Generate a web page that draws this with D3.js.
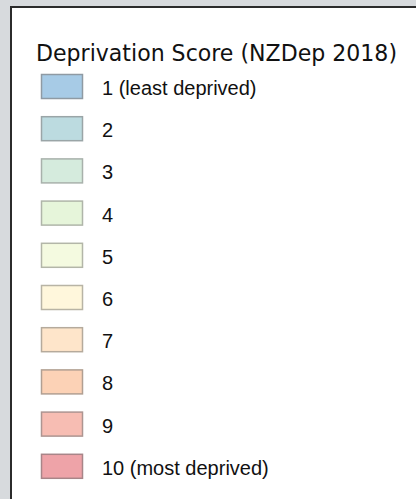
<!DOCTYPE html>
<html>
<head>
<meta charset="utf-8">
<script src="https://cdn.jsdelivr.net/npm/d3@7"></script>
<style>
  html, body { margin: 0; padding: 0; background: #d7dadd; }
  svg { display: block; }
</style>
</head>
<body>
<svg width="416" height="499"></svg>
<script>
// legend data
const title = "Deprivation Score (NZDep 2018)";
const classes = [1, 2, 3, 4, 5, 6, 7, 8, 9, 10];
const labels = ["1 (least deprived)", "2", "3", "4", "5", "6", "7", "8", "9", "10 (most deprived)"];
const colours = ["#a7cbe6", "#bcdbe0", "#d5ebdd", "#e6f5da", "#f4fae0", "#fff7dc", "#fee5ca", "#fcd2b6", "#f7bdb3", "#eea3a8"];
const strokes = ["#8f9aa3", "#9aa5a7", "#a8b1ab", "#afb5a9", "#b3b6a8", "#b8b4a5", "#b5aa9c", "#b19f92", "#ad9591", "#a88588"];

const width = 416, height = 499;
const svg = d3.select("svg");

// white panel with dark border on left / top
svg.append("rect")
  .attr("x", 11).attr("y", 7)
  .attr("width", width - 11).attr("height", height - 7)
  .attr("fill", "#ffffff");
svg.append("path")
  .attr("d", `M11,${height} L11,7 L${width},7`)
  .attr("fill", "none")
  .attr("stroke", "#2b2b2b")
  .attr("stroke-width", 2);

svg.append("text")
  .attr("x", 36).attr("y", 61)
  .attr("textLength", 361)
  .attr("lengthAdjust", "spacingAndGlyphs")
  .style("font-family", "'DejaVu Sans', sans-serif")
  .style("font-size", "23px")
  .style("fill", "#111")
  .text(title);

const y = d3.scaleBand()
  .domain(classes)
  .range([74, 74 + 42.2 * classes.length])
  .paddingInner(0);

const rows = svg.selectAll(".row")
  .data(classes)
  .enter()
  .append("g")
  .attr("class", "row")
  .attr("transform", d => `translate(0, ${y(d)})`);

rows.append("rect")
  .attr("x", 41.5).attr("y", 0.5)
  .attr("width", 41).attr("height", 24)
  .attr("fill", (d, i) => colours[i])
  .attr("stroke", (d, i) => strokes[i])
  .attr("stroke-width", 1.5);

rows.append("text")
  .attr("x", 102).attr("y", 21)
  .style("font-family", "'Liberation Sans', Arial, sans-serif")
  .style("font-size", "20px")
  .style("fill", "#111")
  .text((d, i) => labels[i]);
</script>
</body>
</html>
